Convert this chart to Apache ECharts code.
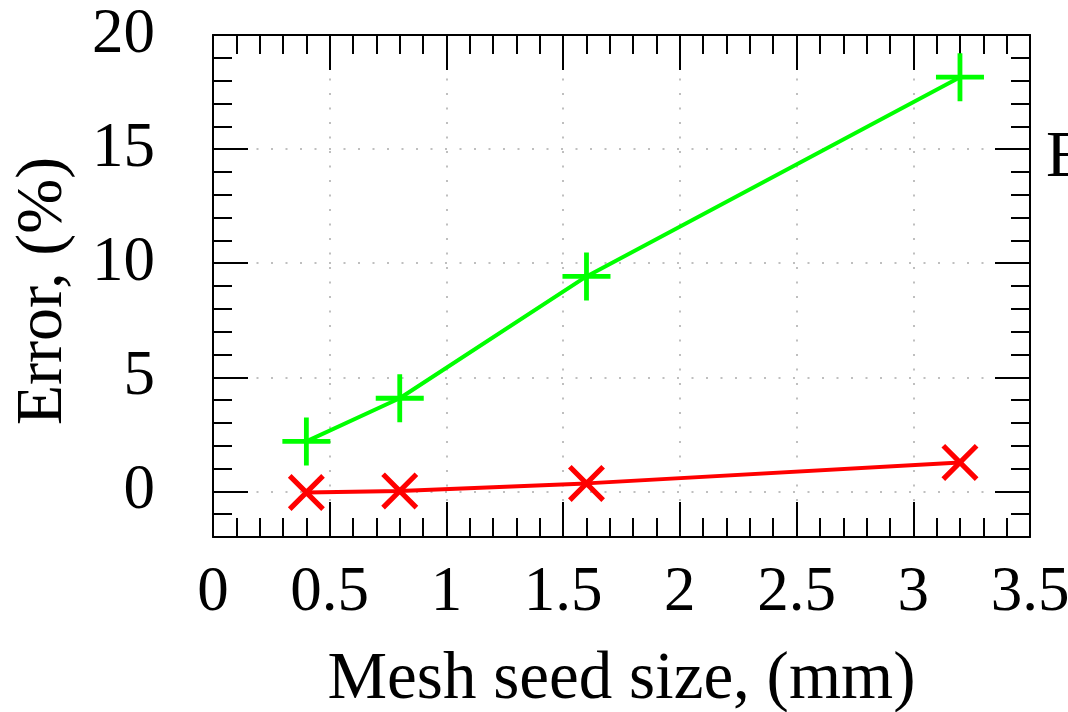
<!DOCTYPE html>
<html>
<head>
<meta charset="utf-8">
<script src="https://cdn.jsdelivr.net/npm/echarts@6/dist/echarts.min.js"></script>
<style>
  html, body { margin: 0; padding: 0; background: #fff; }
  #chart { width: 1068px; height: 712px; }
</style>
</head>
<body>
<div id="chart"></div>
<script>
// data
var seedSize = [0.4, 0.8, 1.6, 3.2];
var errGreen = [2.19, 4.08, 9.42, 18.15];
var errRed = [-0.05, 0.02, 0.35, 1.27];
var xTickLabels = ['0', '0.5', '1', '1.5', '2', '2.5', '3', '3.5'];
var yTickLabels = ['0', '5', '10', '15', '20'];

var FONT = 'Liberation Serif';
var plusPath = 'path://M-1,-0.1 H1 V0.1 H-1 Z M-0.1,-1 H0.1 V1 H-0.1 Z';
var crossPath = 'path://M-0.89,-1.11 L1.11,0.89 L0.89,1.11 L-1.11,-0.89 Z M1.11,-0.89 L-0.89,1.11 L-1.11,0.89 L0.89,-1.11 Z';

function pairs(xs, ys) {
    return xs.map(function(x, i) { return [x, ys[i]]; });
}

function initChart() {
    var myChart = echarts.init(document.getElementById('chart'));

    var axisLine = { show: true, onZero: false, lineStyle: { color: '#000', width: 2 } };
    var tick = { show: true, inside: true, length: 35, lineStyle: { color: '#000', width: 2 } };
    var minor = { show: true, splitNumber: 5, length: 19, lineStyle: { color: '#000', width: 2 } };
    var dotted = { show: true, lineStyle: { color: '#aaa', width: 1.5, type: [2, 12.5] } };

    var xBase = { type: 'value', min: 0, max: 3.5, interval: 0.5 };
    var yBase = { type: 'value', min: -2, max: 20, splitNumber: 4, minInterval: 5, maxInterval: 5 };

    var option = {
        animation: false,
        grid: {
            left: 213,
            right: 38,
            top: 35,
            bottom: 175,
            outerBoundsMode: 'none'
        },
        xAxis: [
            Object.assign({}, xBase, {
                position: 'bottom',
                name: 'Mesh seed size, (mm)',
                nameLocation: 'middle',
                nameGap: 110,
                nameTextStyle: { fontSize: 67, fontFamily: FONT, color: '#000' },
                axisLine: axisLine,
                axisTick: tick,
                minorTick: minor,
                splitLine: dotted,
                axisLabel: {
                    fontSize: 63,
                    fontFamily: FONT,
                    color: '#000',
                    margin: 25,
                    formatter: function(v) {
                        var s = String(v);
                        return xTickLabels.indexOf(s) >= 0 ? s : '';
                    }
                }
            }),
            Object.assign({}, xBase, {
                position: 'top',
                axisLine: axisLine,
                axisTick: tick,
                minorTick: minor,
                splitLine: { show: false },
                axisLabel: { show: false }
            })
        ],
        yAxis: [
            Object.assign({}, yBase, {
                position: 'left',
                name: 'Error, (%)',
                nameLocation: 'middle',
                nameGap: 136,
                nameTextStyle: { fontSize: 66, fontFamily: FONT, color: '#000', padding: [0, 10, 0, 0] },
                axisLine: axisLine,
                axisTick: tick,
                minorTick: minor,
                splitLine: dotted,
                axisLabel: {
                    fontSize: 63,
                    fontFamily: FONT,
                    color: '#000',
                    margin: 58,
                    formatter: function(v) {
                        var s = String(v);
                        return yTickLabels.indexOf(s) >= 0 ? s : '';
                    }
                }
            }),
            Object.assign({}, yBase, {
                position: 'right',
                axisLine: axisLine,
                axisTick: tick,
                minorTick: minor,
                splitLine: { show: false },
                axisLabel: { show: false }
            })
        ],
        graphic: [{
            type: 'text',
            left: 1046,
            top: 126,
            style: { text: 'E', font: '66px "Liberation Serif"', fill: '#000' }
        }],
        series: [
            {
                name: 'green',
                type: 'line',
                data: pairs(seedSize, errGreen),
                symbol: plusPath,
                symbolSize: 48,
                lineStyle: { color: '#00ff00', width: 4 },
                itemStyle: { color: '#00ff00' }
            },
            {
                name: 'red',
                type: 'line',
                data: pairs(seedSize, errRed),
                symbol: crossPath,
                symbolSize: 37,
                lineStyle: { color: '#ff0000', width: 4 },
                itemStyle: { color: '#ff0000' }
            }
        ]
    };

    myChart.setOption(option);
}

initChart();
</script>
</body>
</html>
